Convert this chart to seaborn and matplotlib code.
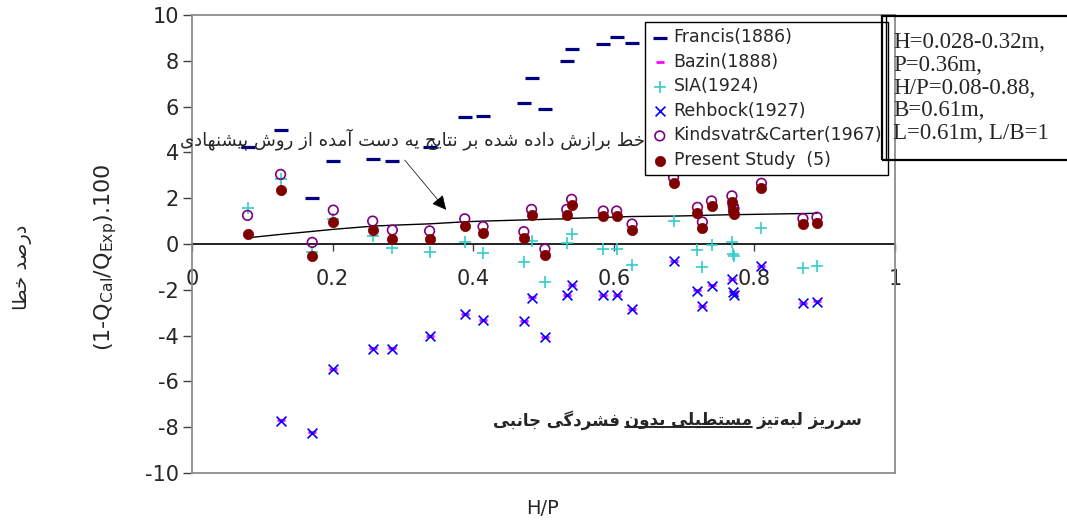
import numpy as np
import pandas as pd
import matplotlib
matplotlib.use("Agg")
import matplotlib.pyplot as plt
import seaborn as sns
from matplotlib.patches import Rectangle
from matplotlib.lines import Line2D

# ---------------- data ----------------
hp = [0.079, 0.126, 0.171, 0.201, 0.257, 0.285, 0.338, 0.388, 0.414, 0.472,
      0.483, 0.502, 0.533, 0.540, 0.585, 0.604, 0.626, 0.685, 0.719, 0.726,
      0.739, 0.768, 0.770, 0.771, 0.810, 0.869, 0.889]
francis = [4.25, 5.00, 2.00, 3.64, 3.70, 3.64, 4.25, 5.53, 5.59, 6.14,
           7.25, 5.91, 7.99, 8.53, 8.73, 9.03, 8.78, np.nan, np.nan, np.nan,
           np.nan, np.nan, np.nan, np.nan, np.nan, np.nan, np.nan]
bazin = [np.nan, -7.70, -8.22, -5.45, -4.55, -4.55, -4.00, -3.06, -3.30, -3.36,
         -2.32, -4.05, -2.22, -1.77, -2.22, -2.22, -2.82, -0.74, -2.02, -2.69,
         -1.80, -1.52, -2.08, -2.20, -0.94, -2.57, -2.51]
sia = [1.59, 2.85, -0.34, 1.08, 0.35, -0.16, -0.35, 0.09, -0.41, -0.80,
       0.14, -1.65, 0.03, 0.44, -0.21, -0.21, -0.90, 1.02, -0.28, -1.00,
       -0.06, 0.10, -0.42, -0.52, 0.68, -1.04, -0.96]
rehbock = [np.nan, -7.73, -8.24, -5.47, -4.57, -4.57, -4.02, -3.07, -3.32, -3.38,
           -2.34, -4.07, -2.24, -1.79, -2.24, -2.24, -2.84, -0.76, -2.04, -2.71,
           -1.82, -1.54, -2.10, -2.22, -0.96, -2.59, -2.53]
kindsvater = [1.25, 3.04, 0.07, 1.48, 1.00, 0.61, 0.57, 1.10, 0.76, 0.54,
              1.51, -0.22, 1.51, 1.95, 1.44, 1.44, 0.87, 2.90, 1.60, 0.96,
              1.88, 2.10, 1.65, 1.54, 2.65, 1.11, 1.17]
present = [0.42, 2.34, -0.52, 0.95, 0.61, 0.22, 0.22, 0.80, 0.47, 0.28,
           1.25, -0.47, 1.25, 1.70, 1.21, 1.21, 0.61, 2.65, 1.37, 0.71,
           1.66, 1.85, 1.45, 1.30, 2.45, 0.87, 0.93]
fit_line = [0.27, 0.42, 0.55, 0.64, 0.78, 0.82, 0.88, 0.97, 1.00, 1.05,
            1.06, 1.08, 1.10, 1.12, 1.16, 1.18, 1.20, 1.22, 1.24, 1.25,
            1.26, 1.28, 1.28, 1.28, 1.30, 1.33, 1.34]

legend_labels = ["Francis(1886)", "Bazin(1888)", "SIA(1924)", "Rehbock(1927)",
                 "Kindsvatr&Carter(1967)", "Present Study  (5)"]
y_ticks = [-10, -8, -6, -4, -2, 0, 2, 4, 6, 8, 10]
x_ticks = [0, 0.2, 0.4, 0.6, 0.8, 1]
x_tick_labels = ["0", "0.2", "0.4", "0.6", "0.8", "1"]
box_lines = ["H=0.028-0.32m,", "P=0.36m,", "H/P=0.08-0.88,", "B=0.61m,", "L=0.61m, L/B=1"]
fit_note = "خط برازش داده شده بر نتایج یه دست آمده از روش پیشنهادی"
title_parts = ["سرریز لبه\u200cتیز", "مستطیلی بدون", "فشردگی جانبی"]
ylabel_fa = "درصد خطا"

# ---------------- minimal Persian shaping (presentation forms) ----------------
FORMS = {
    "ا": (0xFE8D, 0xFE8E), "آ": (0xFE81, 0xFE82), "د": (0xFEA9, 0xFEAA),
    "ذ": (0xFEAB, 0xFEAC), "ر": (0xFEAD, 0xFEAE), "ز": (0xFEAF, 0xFEB0),
    "ژ": (0xFB8A, 0xFB8B), "و": (0xFEED, 0xFEEE),
    "ب": (0xFE8F, 0xFE90, 0xFE91, 0xFE92), "پ": (0xFB56, 0xFB57, 0xFB58, 0xFB59),
    "ت": (0xFE95, 0xFE96, 0xFE97, 0xFE98), "ث": (0xFE99, 0xFE9A, 0xFE9B, 0xFE9C),
    "ج": (0xFE9D, 0xFE9E, 0xFE9F, 0xFEA0), "چ": (0xFB7A, 0xFB7B, 0xFB7C, 0xFB7D),
    "ح": (0xFEA1, 0xFEA2, 0xFEA3, 0xFEA4), "خ": (0xFEA5, 0xFEA6, 0xFEA7, 0xFEA8),
    "س": (0xFEB1, 0xFEB2, 0xFEB3, 0xFEB4), "ش": (0xFEB5, 0xFEB6, 0xFEB7, 0xFEB8),
    "ص": (0xFEB9, 0xFEBA, 0xFEBB, 0xFEBC), "ض": (0xFEBD, 0xFEBE, 0xFEBF, 0xFEC0),
    "ط": (0xFEC1, 0xFEC2, 0xFEC3, 0xFEC4), "ظ": (0xFEC5, 0xFEC6, 0xFEC7, 0xFEC8),
    "ع": (0xFEC9, 0xFECA, 0xFECB, 0xFECC), "غ": (0xFECD, 0xFECE, 0xFECF, 0xFED0),
    "ف": (0xFED1, 0xFED2, 0xFED3, 0xFED4), "ق": (0xFED5, 0xFED6, 0xFED7, 0xFED8),
    "ک": (0xFB8E, 0xFB8F, 0xFB90, 0xFB91), "گ": (0xFB92, 0xFB93, 0xFB94, 0xFB95),
    "ل": (0xFEDD, 0xFEDE, 0xFEDF, 0xFEE0), "م": (0xFEE1, 0xFEE2, 0xFEE3, 0xFEE4),
    "ن": (0xFEE5, 0xFEE6, 0xFEE7, 0xFEE8), "ه": (0xFEE9, 0xFEEA, 0xFEEB, 0xFEEC),
    "ی": (0xFBFC, 0xFBFD, 0xFBFE, 0xFBFF), "ي": (0xFEF1, 0xFEF2, 0xFEF3, 0xFEF4),
}


def shape_fa(s):
    out = []
    n = len(s)
    for i, c in enumerate(s):
        if c == "\u200c":
            continue
        if c not in FORMS:
            out.append(c)
            continue
        prev = s[i - 1] if i > 0 else None
        nxt = s[i + 1] if i < n - 1 else None
        join_prev = prev in FORMS and len(FORMS[prev]) == 4
        join_next = len(FORMS[c]) == 4 and nxt in FORMS
        f = FORMS[c]
        if join_prev and join_next:
            code = f[3]
        elif join_prev:
            code = f[1]
        elif join_next:
            code = f[2]
        else:
            code = f[0]
        out.append(chr(code))
    return "".join(reversed(out))


# ---------------- style ----------------
sns.set_style("white")
plt.rcParams["font.family"] = ["DejaVu Sans"]
plt.rcParams["mathtext.default"] = "regular"
plt.rcParams["axes.unicode_minus"] = False

W, H = 1067, 521
fig = plt.figure(figsize=(W / 100, H / 100), dpi=100)
ax = fig.add_axes([192 / W, 1 - 473 / H, (895 - 192) / W, (473 - 15) / H])

df = pd.DataFrame({"hp": hp, "francis": francis, "bazin": bazin, "sia": sia,
                   "rehbock": rehbock, "kindsvater": kindsvater,
                   "present": present, "fit": fit_line})

sns.lineplot(data=df, x="hp", y="fit", color="black", lw=1.0, sort=False,
             estimator=None, ax=ax, zorder=2)
sns.scatterplot(data=df, x="hp", y="francis", marker="_", color="#000080", s=100,
                linewidth=2.3, ax=ax, label=legend_labels[0], zorder=3)
sns.scatterplot(data=df, x="hp", y="bazin", marker="_", color="#FF00FF", s=40,
                linewidth=2.0, ax=ax, label=legend_labels[1], zorder=3)
sns.scatterplot(data=df, x="hp", y="sia", marker="+", color="#33CCCC", s=85,
                linewidth=1.2, ax=ax, label=legend_labels[2], zorder=3)
sns.scatterplot(data=df, x="hp", y="rehbock", marker="x", color="#0000FF", s=50,
                linewidth=1.2, ax=ax, label=legend_labels[3], zorder=3)
sns.scatterplot(data=df, x="hp", y="kindsvater", marker="o", facecolor="none",
                edgecolor="#800080", s=48, linewidth=1.2, ax=ax,
                label=legend_labels[4], zorder=3)
sns.scatterplot(data=df, x="hp", y="present", marker="o", color="#800000",
                edgecolor="#800000", s=55, linewidth=0.5, ax=ax,
                label=legend_labels[5], zorder=4)

ax.set_xlim(0, 1)
ax.set_ylim(-10, 10)
ax.set_xticks([])
ax.set_yticks(y_ticks)
ax.set_xlabel("")
ax.set_ylabel("")
ax.tick_params(axis="y", direction="out", length=6.5, width=1, color="#404040",
               pad=3, labelsize=15, left=True)
for sp in ax.spines.values():
    sp.set_visible(True)
    sp.set_color("#8c8c8c")
    sp.set_linewidth(1.3)

# zero axis carrying the H/P tick labels
sec = ax.secondary_xaxis(0.5)
sec.set_alignment("bottom")
sec.set_xticks(x_ticks, labels=x_tick_labels)
sec.tick_params(axis="x", direction="out", length=5, width=1, pad=13,
                labelsize=15, color="#404040")
sec.spines["bottom"].set_color("black")
sec.spines["bottom"].set_linewidth(1.2)

# legend
handles, labels = ax.get_legend_handles_labels()
leg = ax.legend(handles, labels, loc="upper left",
                bbox_to_anchor=(645 / W, 1 - 22 / H), bbox_transform=fig.transFigure,
                frameon=True, fancybox=False, edgecolor="black", framealpha=1,
                borderpad=0.35, labelspacing=0.38, handletextpad=0.3,
                handlelength=1.0, borderaxespad=0, fontsize=12.5, scatterpoints=1)
leg.get_frame().set_linewidth(1.0)

# arrow + fitted-line note
ax.annotate("", xy=(0.364, 1.40), xytext=(0.300, 3.76),
            arrowprops=dict(arrowstyle="-|>", color="black", lw=0.5,
                            mutation_scale=22))
fig.text(645 / W, 1 - 139 / H, shape_fa(fit_note), ha="right", va="center",
         fontsize=13, zorder=6)

# info box on the right
fig.add_artist(Rectangle((882 / W, 1 - 160 / H), 0.2, (160 - 16) / H,
                         transform=fig.transFigure, fill=False,
                         edgecolor="black", linewidth=1.6, zorder=7))
fig.add_artist(Line2D([886 / W, 886 / W], [1 - 160 / H, 1 - 16 / H],
                      transform=fig.transFigure, color="black", lw=1.0, zorder=7))
fig.text(893 / W, 1 - 88 / H, "\n".join(box_lines), ha="left", va="center",
         fontsize=16.5, family="Liberation Serif", linespacing=1.12, zorder=8)

# axis labels
fig.text(106 / W, 1 - 257 / H, r"(1-Q$_{Cal}$/Q$_{Exp}$).100", rotation=90,
         ha="center", va="center", fontsize=16)
fig.text(22 / W, 1 - 267 / H, shape_fa(ylabel_fa), rotation=90,
         ha="center", va="center", fontsize=14)
fig.text(543 / W, 1 - 509 / H, "H/P", ha="center", va="center", fontsize=14)

# bottom Persian title with the middle words underlined
renderer = fig.canvas.get_renderer()
x_cur = 863
y_t = 1 - 420 / H
gap = 5
for i, part in enumerate(title_parts):
    t = fig.text(x_cur / W, y_t, shape_fa(part), ha="right", va="center",
                 fontsize=12, fontweight="bold", zorder=6)
    bb = t.get_window_extent(renderer)
    if i == 1:
        yy = (bb.y0 + 1.5) / fig.bbox.height
        fig.add_artist(Line2D([bb.x0 / fig.bbox.width, bb.x1 / fig.bbox.width],
                              [yy, yy], transform=fig.transFigure,
                              color="black", lw=1.2))
    x_cur = bb.x0 / fig.bbox.width * W - gap

fig.savefig("out.png", dpi=100)
